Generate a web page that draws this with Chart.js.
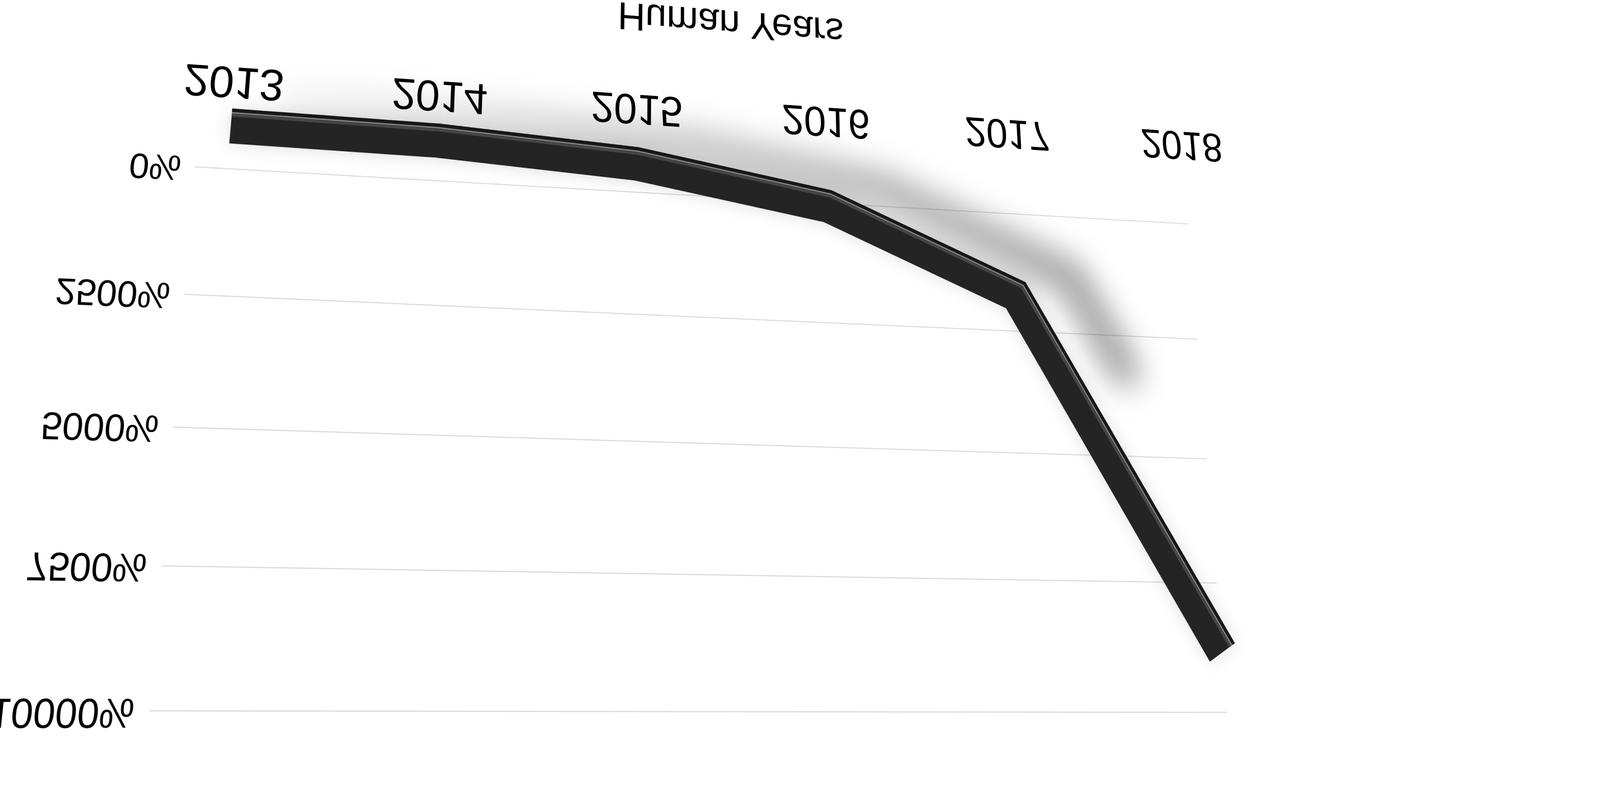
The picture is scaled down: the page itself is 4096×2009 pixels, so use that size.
<!DOCTYPE html>
<html>
<head>
<meta charset="utf-8">
<script src="https://cdn.jsdelivr.net/npm/chart.js@4/dist/chart.umd.min.js"></script>
<style>
html,body{margin:0;padding:0;background:#fff;width:4096px;height:2009px;overflow:hidden;}
#wrap{position:absolute;left:0;top:0;width:4096px;height:2009px;overflow:hidden;background:#fff;}
#c{position:absolute;left:0;top:0;transform-origin:0 0;}
</style>
</head>
<body>
<div id="wrap"><canvas id="c" width="3560" height="1920"></canvas></div>
<script>
// ---- data ----
const categories = ['2013', '2014', '2015', '2016', '2017', '2018'];
const growthValues = [0, 40, 270, 930, 2610, 9720];
const yTickValues = [0, 2500, 5000, 7500, 10000];
const axisTitle = 'Human Years';

// ---- style / layout constants ----
const FONT = "'Liberation Sans', Arial, sans-serif";
const RIBBON_W = 92;           // ribbon stroke width (flat px)
const RIBBON_DEPTH = 0.0867;   // 3D lift of the ribbon, fraction of plot height
const SHADOW_DX = 170;         // shadow shift (flat px)
const SHADOW_DY = 55;
const SHADOW_REACH = 0.26;     // shadow fades out early on the last segment
// where the 0% and 10000% grid lines end on screen (layout of the warped picture)
const DST = [[498.6, 426.9], [3040.9, 573.0], [382.0, 1819.0], [3141.0, 1822.7]];

function polyOffset(pts, d) {
  const n = [];
  for (let i = 0; i < pts.length - 1; i++) {
    const dx = pts[i + 1].x - pts[i].x, dy = pts[i + 1].y - pts[i].y;
    const l = Math.hypot(dx, dy) || 1;
    n.push({x: -dy / l, y: dx / l});
  }
  return pts.map((p, i) => {
    if (i === 0) return {x: p.x + n[0].x * d, y: p.y + n[0].y * d};
    if (i === pts.length - 1) return {x: p.x + n[i - 1].x * d, y: p.y + n[i - 1].y * d};
    const a = n[i - 1], b = n[i];
    const k = d / (1 + a.x * b.x + a.y * b.y);
    return {x: p.x + (a.x + b.x) * k, y: p.y + (a.y + b.y) * k};
  });
}
function strokePoly(ctx, pts) {
  ctx.beginPath();
  pts.forEach((p, i) => i ? ctx.lineTo(p.x, p.y) : ctx.moveTo(p.x, p.y));
  ctx.stroke();
}

const ribbonPlugin = {
  id: 'ribbon3d',
  beforeDatasetsDraw(chart) {
    const ctx = chart.ctx;
    const ys = chart.scales.y;
    const depth = (ys.getPixelForValue(yTickValues[0]) - ys.getPixelForValue(yTickValues[yTickValues.length - 1])) * RIBBON_DEPTH;
    const pts = chart.getDatasetMeta(0).data.map(p => ({x: p.x, y: p.y}));
    ctx.save();
    ctx.translate(0, depth);
    // soft cast shadow, fading toward the left
    const last = pts.length - 1;
    const sp = pts.slice(0, last).map(p => ({x: p.x + SHADOW_DX, y: p.y + SHADOW_DY}));
    sp.push({
      x: pts[last - 1].x + (pts[last].x - pts[last - 1].x) * SHADOW_REACH + SHADOW_DX,
      y: pts[last - 1].y + (pts[last].y - pts[last - 1].y) * SHADOW_REACH + SHADOW_DY
    });
    const grad = ctx.createLinearGradient(sp[0].x, 0, sp[last - 1].x, 0);
    grad.addColorStop(0, 'rgba(0,0,0,0.06)');
    grad.addColorStop(0.45, 'rgba(0,0,0,0.2)');
    grad.addColorStop(1, 'rgba(0,0,0,0.33)');
    ctx.save();
    ctx.filter = 'blur(42px)';
    ctx.strokeStyle = grad;
    ctx.lineWidth = RIBBON_W * 1.2;
    ctx.lineCap = 'round';
    ctx.lineJoin = 'round';
    strokePoly(ctx, sp);
    ctx.restore();
    ctx.shadowColor = 'rgba(0,0,0,0.13)';
    ctx.shadowBlur = 50;
  },
  afterDatasetsDraw(chart) {
    const ctx = chart.ctx;
    ctx.shadowColor = 'rgba(0,0,0,0)';
    ctx.shadowBlur = 0;
    const pts = chart.getDatasetMeta(0).data.map(p => ({x: p.x, y: p.y}));
    ctx.lineJoin = 'miter';
    ctx.lineCap = 'butt';
    // lighter bevel band near the top edge
    ctx.strokeStyle = '#454545';
    ctx.lineWidth = RIBBON_W * 0.12;
    strokePoly(ctx, polyOffset(pts, RIBBON_W * 0.33));
    // thin highlight
    ctx.strokeStyle = '#a0a0a0';
    ctx.lineWidth = RIBBON_W * 0.025;
    strokePoly(ctx, polyOffset(pts, RIBBON_W * 0.38));
    // dark rim
    ctx.strokeStyle = '#161616';
    ctx.lineWidth = RIBBON_W * 0.08;
    strokePoly(ctx, polyOffset(pts, RIBBON_W * 0.46));
    ctx.restore();
  }
};

const chart = new Chart(document.getElementById('c'), {
  type: 'line',
  data: {
    labels: categories,
    datasets: [{
      data: growthValues,
      borderColor: '#242424',
      borderWidth: RIBBON_W,
      borderCapStyle: 'butt',
      borderJoinStyle: 'miter',
      tension: 0,
      pointRadius: 0,
      pointHoverRadius: 0,
      fill: false,
      clip: false
    }]
  },
  options: {
    responsive: false,
    animation: false,
    devicePixelRatio: 1,
    layout: {padding: {left: 10, right: 170, top: 70, bottom: 10}},
    plugins: {legend: {display: false}, tooltip: {enabled: false}, title: {display: false}},
    scales: {
      x: {
        type: 'category',
        grid: {display: false, drawTicks: false},
        border: {display: false},
        ticks: {color: '#000', padding: 177, maxRotation: 0, autoSkip: false, font: {family: FONT, size: 118, lineHeight: 1.0}},
        title: {display: true, text: axisTitle, color: '#000', padding: {top: -3, bottom: 0}, font: {family: FONT, size: 111, lineHeight: 0.5}}
      },
      y: {
        min: yTickValues[0],
        max: yTickValues[yTickValues.length - 1],
        afterBuildTicks: s => { s.ticks = yTickValues.map(v => ({value: v})); },
        grid: {color: '#dcdde0', lineWidth: 3, tickLength: 84, drawTicks: true},
        border: {display: false},
        ticks: {color: '#000', padding: 35, font: {family: FONT, size: 91}, callback: v => v + '%'}
      }
    }
  },
  plugins: [ribbonPlugin]
});

// ---- perspective warp (flat chart -> photographed view) ----
function solve(A, B) {
  const n = B.length;
  for (let i = 0; i < n; i++) {
    let m = i;
    for (let r = i + 1; r < n; r++) if (Math.abs(A[r][i]) > Math.abs(A[m][i])) m = r;
    [A[i], A[m]] = [A[m], A[i]]; [B[i], B[m]] = [B[m], B[i]];
    for (let r = i + 1; r < n; r++) {
      const f = A[r][i] / A[i][i];
      for (let c = i; c < n; c++) A[r][c] -= f * A[i][c];
      B[r] -= f * B[i];
    }
  }
  const x = new Array(n).fill(0);
  for (let i = n - 1; i >= 0; i--) {
    let s = B[i];
    for (let c = i + 1; c < n; c++) s -= A[i][c] * x[c];
    x[i] = s / A[i][i];
  }
  return x;
}
const ys = chart.scales.y;
const xL = chart.chartArea.left - ys.options.grid.tickLength;
const xR = chart.chartArea.right;
const yA = ys.getPixelForValue(yTickValues[0]);
const yB = ys.getPixelForValue(yTickValues[yTickValues.length - 1]);
const SRC = [[xL, yA], [xR, yA], [xL, yB], [xR, yB]];
const A = [], B = [];
for (let i = 0; i < 4; i++) {
  const [x, y] = SRC[i], [X, Y] = DST[i];
  A.push([x, y, 1, 0, 0, 0, -x * X, -y * X]); B.push(X);
  A.push([0, 0, 0, x, y, 1, -x * Y, -y * Y]); B.push(Y);
}
const [a, b, c, d, e, f, g, h] = solve(A, B);
document.getElementById('c').style.transform =
  `matrix3d(${a},${d},0,${g},${b},${e},0,${h},0,0,1,0,${c},${f},0,1)`;
</script>
</body>
</html>
